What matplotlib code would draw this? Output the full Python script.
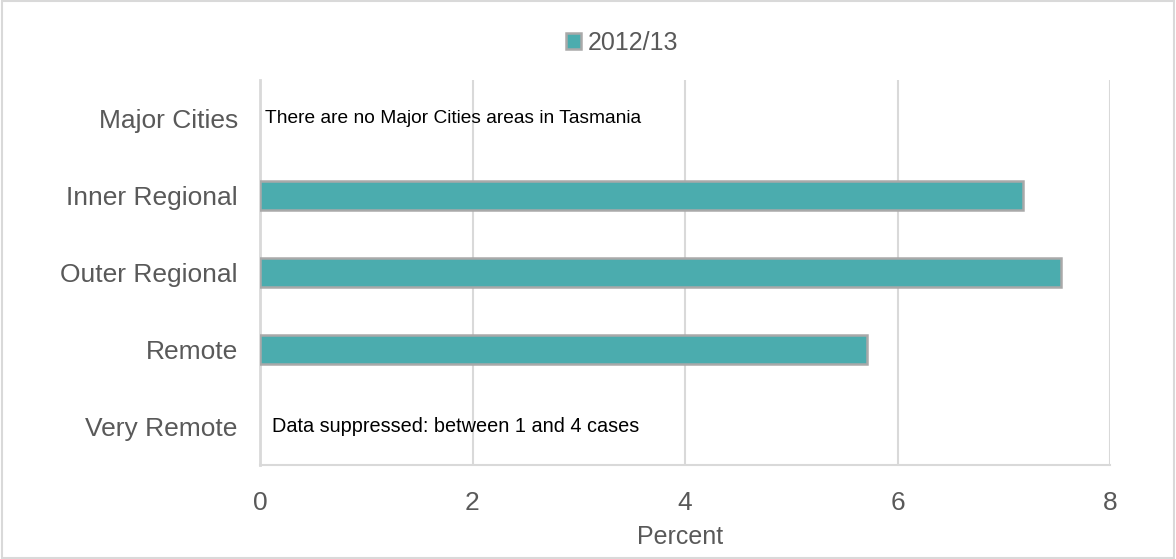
import matplotlib
matplotlib.use("Agg")
import matplotlib.pyplot as plt
import numpy as np

plt.rcParams['font.family'] = ['Liberation Sans', 'DejaVu Sans']

categories = ["Major Cities", "Inner Regional", "Outer Regional", "Remote", "Very Remote"]
values = [np.nan, 7.18, 7.54, 5.71, np.nan]
series_name = "2012/13"
notes = {"Major Cities": "There are no Major Cities areas in Tasmania",
         "Very Remote": "Data suppressed: between 1 and 4 cases"}
xticks = [0, 2, 4, 6, 8]

text_color = "#595959"
bar_color = "#4BACAE"
edge_color = "#A9A9A9"
grid_color = "#D9D9D9"

fig = plt.figure(figsize=(11.76, 5.59), dpi=100)
ax = fig.add_axes([260/1176, 1 - 465/559, 850/1176, 385/559])

y = np.arange(len(categories))
vals = np.nan_to_num(np.array(values, dtype=float), nan=0.0)
mask = ~np.isnan(np.array(values, dtype=float))
ax.barh(y[mask], vals[mask], height=0.38, color=bar_color, edgecolor=edge_color,
        linewidth=1.8, label=series_name, zorder=3)

ax.set_ylim(len(categories) - 0.5, -0.5)
ax.set_xlim(0, 8)
ax.set_yticks(y)
ax.set_yticklabels(categories, fontsize=19, color=text_color)
ax.set_xticks(xticks)
ax.set_xticklabels([str(t) for t in xticks], fontsize=19, color=text_color)
ax.tick_params(axis='y', length=0, pad=16)
ax.tick_params(axis='x', length=0, pad=19)
ax.set_xlabel("Percent", fontsize=18, color=text_color)
ax.xaxis.set_label_coords(0.494, -0.187)
ax.xaxis.label.set_va('center')

ax.grid(axis='x', color=grid_color, linewidth=1.5, zorder=0)
ax.set_axisbelow(True)
for s in ['top', 'right']:
    ax.spines[s].set_visible(False)
ax.spines['left'].set_color(grid_color)
ax.spines['left'].set_linewidth(2)
ax.spines['bottom'].set_color(grid_color)
ax.spines['bottom'].set_linewidth(1.5)

note_sizes = {"Major Cities": 13.8, "Very Remote": 14.3}
for cat, txt in notes.items():
    i = categories.index(cat)
    xoff = 0.05 if cat == "Major Cities" else 0.11
    ax.text(xoff, i, txt, fontsize=note_sizes[cat], color="black", va='center', ha='left')

leg = ax.legend(loc='center', bbox_to_anchor=(0.426, 1.0 + 37/385), frameon=False,
                fontsize=18, handlelength=0.6, handleheight=0.6, handletextpad=0.25,
                borderaxespad=0, borderpad=0)
for t in leg.get_texts():
    t.set_color(text_color)

# outer border
fig.patches.append(plt.Rectangle((0.002, 0.002), 0.996, 0.996, transform=fig.transFigure,
                                 fill=False, edgecolor="#D9D9D9", linewidth=1.5))

fig.savefig("out.png", dpi=100)
